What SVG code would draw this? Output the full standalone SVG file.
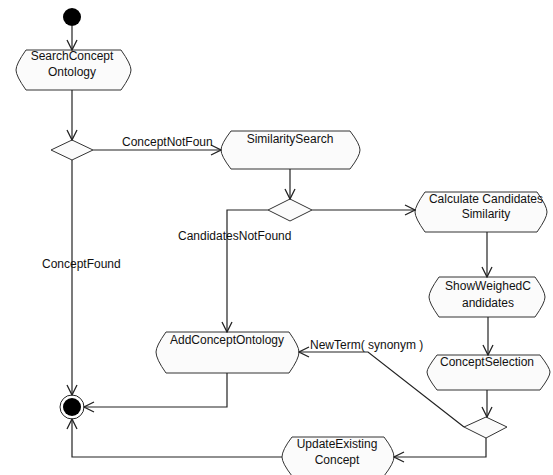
<svg xmlns="http://www.w3.org/2000/svg" width="553" height="475" viewBox="0 0 553 475">
<defs>
<style>
.node{fill:#fbfbfb;stroke:#333;stroke-width:1}
.t{font-family:"Liberation Sans",Arial,sans-serif;font-size:12px;fill:#111;text-anchor:middle}
.l{font-family:"Liberation Sans",Arial,sans-serif;font-size:12px;fill:#111}
.e{fill:none;stroke:#222;stroke-width:1.2}
</style>
<marker id="ah" markerUnits="userSpaceOnUse" markerWidth="12" markerHeight="12" refX="11" refY="6" orient="auto">
<path d="M1,1 L11,6 L1,11" fill="none" stroke="#222" stroke-width="1.3"/>
</marker>
</defs>
<rect width="553" height="475" fill="#fff"/>

<g id="start"><circle cx="72" cy="17" r="9" fill="#000"/></g>

<g id="searchConceptOntology">
<path class="node" d="M26,50 H121 Q131,64 131,70 Q131,76 121,90 H26 Q16,76 16,70 Q16,64 26,50 Z"/>
<text class="t" x="72" y="60">SearchConcept</text>
<text class="t" x="72" y="76">Ontology</text>
</g>

<g id="decision1"><path class="node" d="M72,140 L93,150 L72,160 L51,150 Z"/></g>

<g id="similaritySearch">
<path class="node" d="M231,131 H350 Q360,144 360,150 Q360,156 350,169 H231 Q221,156 221,150 Q221,144 231,131 Z"/>
<text class="t" x="290" y="143">SimilaritySearch</text>
</g>

<g id="decision2"><path class="node" d="M290,199 L312,210 L290,221 L268,210 Z"/></g>

<g id="calculateCandidatesSimilarity">
<path class="node" d="M425,192 H537 Q547,206 547,212 Q547,218 537,232 H425 Q415,218 415,212 Q415,206 425,192 Z"/>
<text class="t" x="486" y="203">Calculate Candidates</text>
<text class="t" x="486" y="218">Similarity</text>
</g>

<g id="showWeighedCandidates">
<path class="node" d="M439,277 H535 Q545,291 545,297 Q545,303 535,317 H439 Q429,303 429,297 Q429,291 439,277 Z"/>
<text class="t" x="488" y="290">ShowWeighedC</text>
<text class="t" x="488" y="307">andidates</text>
</g>

<g id="conceptSelection">
<path class="node" d="M437,355 H540 Q550,368 550,372 Q550,377 540,390 H437 Q427,377 427,372 Q427,368 437,355 Z"/>
<text class="t" x="487" y="366">ConceptSelection</text>
</g>

<g id="decision3"><path class="node" d="M486,417 L507,427 L486,438 L464,427 Z"/></g>

<g id="addConceptOntology">
<path class="node" d="M166,332 H289 Q299,346 299,352 Q299,359 289,373 H166 Q156,359 156,352 Q156,346 166,332 Z"/>
<text class="t" x="227" y="344">AddConceptOntology</text>
</g>

<g id="updateExistingConcept">
<path class="node" d="M292,437 H384 Q394,450 394,457 Q394,463 384,476 H292 Q282,463 282,457 Q282,450 292,437 Z"/>
<text class="t" x="337" y="448">UpdateExisting</text>
<text class="t" x="337" y="464">Concept</text>
</g>

<g id="end">
<circle cx="72" cy="407" r="12" fill="#fff" stroke="#222" stroke-width="1"/>
<circle cx="72" cy="407" r="9" fill="#000"/>
</g>

<g id="connectors">
<path class="e" d="M72,26 V50" marker-end="url(#ah)"/>
<path class="e" d="M72,90 V140" marker-end="url(#ah)"/>
<path class="e" d="M93,150 H221" marker-end="url(#ah)"/>
<path class="e" d="M290,169 V199" marker-end="url(#ah)"/>
<path class="e" d="M268,210 H227 V332" marker-end="url(#ah)"/>
<path class="e" d="M312,210 H415" marker-end="url(#ah)"/>
<path class="e" d="M487,232 V277" marker-end="url(#ah)"/>
<path class="e" d="M488,317 V355" marker-end="url(#ah)"/>
<path class="e" d="M487,390 V417" marker-end="url(#ah)"/>
<path class="e" d="M464,427 L368,352 H299" marker-end="url(#ah)"/>
<path class="e" d="M486,438 V457 H394" marker-end="url(#ah)"/>
<path class="e" d="M72,160 V395" marker-end="url(#ah)"/>
<path class="e" d="M227,373 V407 H84" marker-end="url(#ah)"/>
<path class="e" d="M282,457 H72 V419" marker-end="url(#ah)"/>
<text class="l" x="122" y="146">ConceptNotFoun</text>
<text class="l" x="178" y="240">CandidatesNotFound</text>
<text class="l" x="42" y="268">ConceptFound</text>
<text class="l" x="310" y="349">NewTerm( synonym )</text>
</g>
</svg>
